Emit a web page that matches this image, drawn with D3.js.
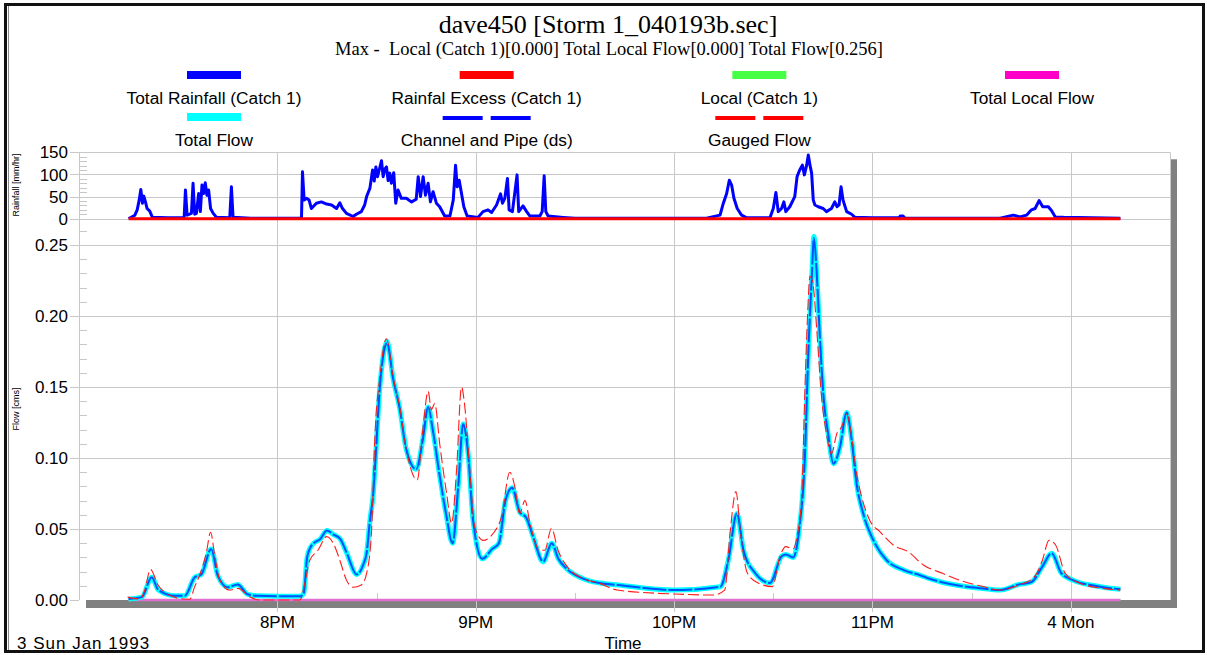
<!DOCTYPE html>
<html>
<head>
<meta charset="utf-8">
<script src="https://cdn.jsdelivr.net/npm/d3@7"></script>
<style>
  body { margin: 0; background: #fff; }
  svg { display: block; }
  text { font-family: "Liberation Sans", Arial, sans-serif; fill: #000; }
  .serif { font-family: "Liberation Serif", "Times New Roman", serif; white-space: pre; }
</style>
</head>
<body>
<svg id="chart" width="1207" height="655"></svg>
<script>
// all times are minutes after 7PM, 3 Sun Jan 1993
const rainMinutes = [15,15.8,16.9,17.6,18.2,18.7,19.2,19.6,20.1,20.6, 21.4,22.2,27,31.8,32.2,32.7,34,34.5,35,35.5,
  36.2,36.7,37.2,37.7,38.2,38.7,39.2,39.8,40.6,41.6, 45.6,46.1,46.6,52,67.3,67.6,68.1,68.8,69.6,70.3,
  71.8,73.3,74.9,76.4,77.9,78.9,79.7,80.9,82.9,83.9, 85.4,86.4,87,88,88.8,89.3,89.8,90.3,90.8,91.5,
  92,92.5,93,93.5,94,94.5,95.2,95.8,96.5,97.5, 99,100.6,102,102.6,103.3,104.1,104.8,105.6,106.3,107.1,
  108.1,109.1,110.6,112.2,113.2,113.9,114.4,115,115.7,116.4, 117.4,120.7,122.2,123.7,124.8,126.3,127.5,128.1,128.8,129.6,
  130.1,131.1,132.5,133,134.3,135.4,136.4,139.4,140.1,140.7, 141.2,141.9,146.5,150,189.8,193.9,194.9,195.9,196.7,197.4,
  198.1,199.1,200.4,202,209,210,210.8,211.5,212.5,213.2, 213.8,215,216.5,217.2,218,218.8,219.4,220.1,220.6,221.1,
  221.6,222.1,222.6,223.6,225.1,226.1,227.6,228.6,229.3,229.9, 230.5,231.1,232.2,233.7,234.7,240,248.1,248.4,249.3,249.8,
  278.6,282.6,284.6,286.6,288.1,289.2,290.4,291.5,293.2,294.2, 295.3,297.8,315];
const totalRainfall = [0,3,8,20,42,66,35,51,38,23, 17,3,2,2,65,8,12,80,10,12,
  57,16,76,57,81,53,65,23,12,3, 2,72,3,1,1,106,42,46,42,23,
  35,38,33,31,23,36,23,12,5,10, 16,31,50,69,110,85,117,95,110,131,
  95,112,117,86,103,80,104,35,65,46, 46,38,44,95,50,95,53,80,38,61,
  35,27,6,6,42,121,72,87,57,27, 6,3,16,20,14,31,56,35,46,91,
  20,16,99,16,29,16,6,6,16,97, 16,6,3,1,1,8,35,57,87,76,
  46,23,8,2,2,23,59,16,23,38, 16,27,50,95,110,121,99,121,144,121,
  103,42,31,27,23,16,23,38,27,31, 72,42,16,10,3,2,2,6,6,1,
  1,8,4,8,20,23,41,27,27,18, 4,3,1];

const excessMinutes = [15, 315];
const rainfallExcess = [0, 0];

const flowMinutes = [15,19,22,24,29,32,35,37,40,42, 45,48,51,54,67,68,69,70,71,73,
  75,77,79,81,84,86,87,88,89,89.5, 91,92.5,93.2,95,97,99,102,104,105.6,107,
  109,111,113,114.7,116.2,117.7,119.2,122,125,127, 129,131,133.3,135.3,137.3,140.4,143,145,147.5,152.5,
  157.5,163,180,194,196.4,199,201,204.5,209,212.6, 213.8,216,217.8,219.6,220.6,221.6,222.3,223.1,224.1,225.1,
  226.6,228.2,230.2,232.2,233.7,235.2,237.2,240.3,244.3,249.5, 254.3,257.3,261,272.8,278.6,284.4,288,291.4,294.2,297.1,
  300.6,307.6,315];
const totalFlow = [0.0007,0.002,0.016,0.007,0.003,0.003,0.016,0.018,0.036,0.017, 0.009,0.011,0.004,0.003,0.0026,0.005,0.030,0.037,0.040,0.043,
  0.049,0.046,0.043,0.033,0.018,0.025,0.033,0.056,0.075,0.092, 0.150,0.178,0.182,0.156,0.135,0.106,0.092,0.113,0.136,0.120,
  0.089,0.061,0.040,0.080,0.124,0.103,0.056,0.029,0.036,0.040, 0.070,0.079,0.062,0.058,0.045,0.027,0.040,0.029,0.022,0.015,
  0.012,0.0106,0.007,0.0094,0.028,0.061,0.035,0.019,0.012,0.031, 0.032,0.030,0.049,0.103,0.174,0.225,0.256,0.232,0.185,0.146,
  0.117,0.096,0.108,0.132,0.113,0.082,0.061,0.042,0.028,0.021, 0.0175,0.015,0.0125,0.0082,0.007,0.011,0.0125,0.0235,0.033,0.019,
  0.014,0.0099,0.0075];
const channelPipe = [0.0007,0.002,0.016,0.007,0.003,0.003,0.016,0.018,0.036,0.017, 0.009,0.011,0.004,0.003,0.0026,0.005,0.030,0.037,0.040,0.043,
  0.049,0.046,0.043,0.033,0.018,0.025,0.033,0.056,0.075,0.092, 0.150,0.178,0.181,0.156,0.135,0.106,0.092,0.113,0.136,0.120,
  0.089,0.061,0.040,0.080,0.124,0.103,0.056,0.029,0.036,0.040, 0.070,0.079,0.062,0.058,0.045,0.027,0.040,0.029,0.022,0.015,
  0.012,0.0106,0.007,0.0094,0.028,0.061,0.035,0.019,0.012,0.031, 0.032,0.030,0.049,0.103,0.174,0.225,0.255,0.232,0.185,0.146,
  0.117,0.096,0.108,0.132,0.113,0.082,0.061,0.042,0.028,0.021, 0.0175,0.015,0.0125,0.0082,0.007,0.011,0.0125,0.0235,0.033,0.019,
  0.014,0.0099,0.0075];

const gaugedMinutes = [14.7,18.4,19.9,21.6,23.9,26.4,31.5,33.5,35,36.5, 38.5,39.8,41.1,42.6,45.6,48.1,51.6,54.7,66.8,68.3,
  69.8,72.3,74.9,76.9,78.9,80.9,82.9,85.4,87,88.5, 89.5,91,93,95,97,99,102.3,104,105.6,106.6,
  107.6,109.1,111.2,112.7,114.2,115.7,116.7,118.2,119.7,122.2, 125.3,127.8,130.3,131.8,133.3,134.9,136.4,139.4,140.9,142.9,
  144.9,147.5,152.4,157.5,162.8,180.2,191.8,195.3,197,198.7, 200.1,202.2,205.7,209.7,212,213.8,216,217.2,218.6,219.6,
  220.4,221.1,222.1,223.1,224.6,226.1,227.6,229.2,230.7,232.2, 233.7,235.2,236.7,239.2,242.3,246.3,250.8,255.5,261.2,267,
  272.8,278.6,284.4,289,291.4,293.4,295.4,298.3,302.9,309.8, 315];
const gaugedFlow = [0.002,0.0007,0.007,0.0216,0.0106,0.0047,0.0007,0.0005,0.0094,0.0176, 0.033,0.0477,0.0305,0.014,0.007,0.0082,0.0023,0,0,0.0117,
  0.028,0.035,0.0446,0.040,0.028,0.014,0.009,0.0106,0.0188,0.049, 0.115,0.157,0.184,0.157,0.136,0.106,0.0845,0.12,0.147,0.134,
  0.1385,0.110,0.075,0.054,0.0915,0.150,0.136,0.0915,0.0516,0.042, 0.047,0.0587,0.090,0.080,0.061,0.070,0.054,0.035,0.035,0.0505,
  0.035,0.024,0.0153,0.0117,0.007,0.0042,0.0035,0.007,0.049,0.0763, 0.047,0.0188,0.0117,0.0094,0.0305,0.0376,0.036,0.045,0.073,0.150,
  0.202,0.228,0.221,0.192,0.143,0.117,0.103,0.117,0.122,0.131, 0.115,0.089,0.073,0.056,0.048,0.0387,0.034,0.0245,0.0188,0.0134,
  0.0099,0.007,0.0106,0.0164,0.028,0.042,0.0387,0.0188,0.0117,0.0082, 0.007];

const localMinutes = [15, 315];
const localCatch = [0, 0];
const totalLocalFlow = [0, 0];

const rainTicks = [0, 50, 100, 150];
const flowTicks = [0, 0.05, 0.10, 0.15, 0.20, 0.25];

const legendItems = [
  { name: "Total Rainfall (Catch 1)", color: "#0000ff", dash: false },
  { name: "Rainfal Excess (Catch 1)", color: "#ff0000", dash: false },
  { name: "Local (Catch 1)", color: "#44ff44", dash: false },
  { name: "Total Local Flow", color: "#ff00c8", dash: false },
  { name: "Total Flow", color: "#00ffff", dash: false },
  { name: "Channel and Pipe (ds)", color: "#0000ff", dash: true },
  { name: "Gauged Flow", color: "#ff0000", dash: true }
];

const titleText = "dave450 [Storm 1_040193b.sec]";
const subtitleText = "Max -  Local (Catch 1)[0.000] Total Local Flow[0.000] Total Flow[0.256]";

const svg = d3.select("#chart");
const grid = "#c8c8c8";

const startTime = new Date(1993, 0, 3, 19, 0);
const endTime = new Date(1993, 0, 4, 0, 30);
const toDate = (m) => new Date(+startTime + m * 60000);

const plot = { left: 79, right: 1170, top: 152.3, bottom: 600 };

const x = d3.scaleTime().domain([startTime, endTime]).range([plot.left, plot.right]);
const yRain = d3.scaleLinear().domain([0, 150]).range([218.7, plot.top]);
const yFlow = d3.scaleLinear().domain([0, 0.265]).range([plot.bottom, 223.7]);

// outer frame
svg.append("rect").attr("x", 5.5).attr("y", 4.5).attr("width", 1198).attr("height", 647)
  .attr("fill", "#fff").attr("stroke", "#111").attr("stroke-width", 3);
svg.append("line").attr("x1", 8.5).attr("x2", 8.5).attr("y1", 6).attr("y2", 650)
  .attr("stroke", "#888").attr("stroke-width", 1);

// drop shadow + plot background
svg.append("rect").attr("x", plot.left + 7).attr("y", plot.top + 7)
  .attr("width", plot.right - plot.left).attr("height", plot.bottom - plot.top + 1)
  .attr("fill", "#808080");
svg.append("rect").attr("x", plot.left).attr("y", plot.top)
  .attr("width", plot.right - plot.left).attr("height", plot.bottom - plot.top)
  .attr("fill", "#fff");

// vertical hour gridlines (first hour after the axis start)
const hours = d3.timeHour.range(d3.timeHour.offset(startTime, 1), endTime);
svg.append("g").selectAll("line").data(hours).join("line")
  .attr("x1", d => Math.round(x(d)) + 0.5).attr("x2", d => Math.round(x(d)) + 0.5)
  .attr("y1", plot.top).attr("y2", 612)
  .attr("stroke", grid).attr("stroke-width", 1);

// half hour minor ticks
const halfHours = d3.timeMinute.every(30).range(startTime, endTime).filter(d => d.getMinutes() === 30);
svg.append("g").selectAll("line").data(halfHours).join("line")
  .attr("x1", d => Math.round(x(d)) + 0.5).attr("x2", d => Math.round(x(d)) + 0.5)
  .attr("y1", plot.bottom - 7).attr("y2", plot.bottom)
  .attr("stroke", grid);

// horizontal gridlines
svg.append("g").selectAll("line").data(rainTicks).join("line")
  .attr("x1", 70).attr("x2", plot.right)
  .attr("y1", d => Math.round(yRain(d)) + 0.5).attr("y2", d => Math.round(yRain(d)) + 0.5)
  .attr("stroke", grid);
svg.append("g").selectAll("line").data(flowTicks.filter(d => d > 0)).join("line")
  .attr("x1", 70).attr("x2", plot.right)
  .attr("y1", d => Math.round(yFlow(d)) + 0.5).attr("y2", d => Math.round(yFlow(d)) + 0.5)
  .attr("stroke", grid);
svg.append("line").attr("x1", 70).attr("x2", plot.left)
  .attr("y1", plot.bottom + 0.5).attr("y2", plot.bottom + 0.5).attr("stroke", grid);

// minor y ticks
const rainMinor = d3.range(10, 150, 10).filter(d => d % 50 !== 0);
svg.append("g").selectAll("line").data(rainMinor).join("line")
  .attr("x1", plot.left).attr("x2", plot.left + 8)
  .attr("y1", d => Math.round(yRain(d)) + 0.5).attr("y2", d => Math.round(yRain(d)) + 0.5)
  .attr("stroke", grid);
const flowMinor = d3.range(1, 27).map(d => d / 100).filter(d => Math.round(d * 100) % 5 !== 0);
svg.append("g").selectAll("line").data(flowMinor).join("line")
  .attr("x1", plot.left).attr("x2", plot.left + 8)
  .attr("y1", d => Math.round(yFlow(d)) + 0.5).attr("y2", d => Math.round(yFlow(d)) + 0.5)
  .attr("stroke", grid);

// axis lines and right border
svg.append("line").attr("x1", plot.left + 0.5).attr("x2", plot.left + 0.5)
  .attr("y1", plot.top).attr("y2", plot.bottom).attr("stroke", grid);
svg.append("line").attr("x1", plot.right + 0.5).attr("x2", plot.right + 0.5)
  .attr("y1", plot.top).attr("y2", plot.bottom).attr("stroke", grid);

// series
function series(times, values) {
  return times.map((t, i) => ({ t: toDate(t), v: values[i] }));
}
const rainLine = d3.line().x(d => x(d.t)).y(d => yRain(d.v));
const flowLine = d3.line().x(d => x(d.t)).y(d => yFlow(d.v)).curve(d3.curveMonotoneX);
const flowStraight = d3.line().x(d => x(d.t)).y(d => yFlow(d.v));

svg.append("path").datum(series(rainMinutes, totalRainfall)).attr("d", rainLine)
  .attr("fill", "none").attr("stroke", "#0000ff").attr("stroke-width", 3).attr("stroke-linejoin", "round");
svg.append("path").datum(series(excessMinutes, rainfallExcess)).attr("d", rainLine)
  .attr("fill", "none").attr("stroke", "#ff0000").attr("stroke-width", 3);

svg.append("path").datum(series(localMinutes, localCatch)).attr("d", flowStraight)
  .attr("fill", "none").attr("stroke", "#44ff44").attr("stroke-width", 2);
svg.append("path").datum(series(localMinutes, totalLocalFlow)).attr("d", flowStraight)
  .attr("fill", "none").attr("stroke", "#e070d0").attr("stroke-width", 2.5);

svg.append("path").datum(series(flowMinutes, totalFlow)).attr("d", flowLine)
  .attr("fill", "none").attr("stroke", "#00ffff").attr("stroke-width", 5).attr("stroke-linejoin", "round");
svg.append("path").datum(series(flowMinutes, channelPipe)).attr("d", flowLine)
  .attr("fill", "none").attr("stroke", "#0050ff").attr("stroke-width", 2)
  .attr("stroke-dasharray", "24,2");
svg.append("path").datum(series(gaugedMinutes, gaugedFlow)).attr("d", flowLine)
  .attr("fill", "none").attr("stroke", "#ff1a1a").attr("stroke-width", 1.1)
  .attr("stroke-dasharray", "11,4");

// y tick labels
svg.append("g").selectAll("text").data(rainTicks).join("text")
  .attr("x", 68).attr("y", d => yRain(d)).attr("dy", "0.36em")
  .attr("text-anchor", "end").style("font-size", "17px")
  .text(d => d);
svg.append("g").selectAll("text").data(flowTicks).join("text")
  .attr("x", 68).attr("y", d => yFlow(d)).attr("dy", "0.36em")
  .attr("text-anchor", "end").style("font-size", "17px")
  .text(d3.format(".2f"));

// axis titles
svg.append("text").attr("transform", "translate(19,185) rotate(-90)")
  .attr("text-anchor", "middle").style("font-size", "9px").text("Rainfall [mm/hr]");
svg.append("text").attr("transform", "translate(19,409) rotate(-90)")
  .attr("text-anchor", "middle").style("font-size", "9px").text("Flow [cms]");

// x tick labels
const hourFmt = d3.timeFormat("%-I%p");
svg.append("g").selectAll("text").data(hours).join("text")
  .attr("x", d => x(d)).attr("y", 628)
  .attr("text-anchor", "middle").style("font-size", "17px")
  .text(d => d.getHours() === 0 ? d3.timeFormat("%-d %a")(d) : hourFmt(d));

svg.append("text").attr("x", 623).attr("y", 649).attr("text-anchor", "middle")
  .style("font-size", "17px").text("Time");
svg.append("text").attr("x", 17).attr("y", 649)
  .style("font-size", "17px").style("letter-spacing", "1px")
  .text(d3.timeFormat("%-d %a %b %Y")(startTime));

// titles
svg.append("text").attr("class", "serif").attr("x", 608).attr("y", 33)
  .attr("text-anchor", "middle").style("font-size", "26px").text(titleText);
svg.append("text").attr("class", "serif").attr("x", 609).attr("y", 55)
  .attr("text-anchor", "middle").style("font-size", "18.5px").text(subtitleText);

// legend
const legendX = d3.scalePoint().domain(d3.range(4)).range([214, 1032]);
const legend = svg.append("g").selectAll("g").data(legendItems).join("g")
  .attr("transform", (d, i) => `translate(${legendX(i % 4)},${i < 4 ? 0 : 42})`);
legend.filter(d => !d.dash).append("rect")
  .attr("x", -27).attr("y", 71).attr("width", 54).attr("height", 8)
  .attr("fill", d => d.color);
legend.filter(d => d.dash).selectAll("rect").data(d => [d, d]).join("rect")
  .attr("x", (d, i) => i === 0 ? -44 : 4).attr("y", 74).attr("width", 40).attr("height", 4)
  .attr("fill", d => d.color);
legend.append("text").attr("x", 0).attr("y", 104)
  .attr("text-anchor", "middle").style("font-size", "17.3px")
  .text(d => d.name);
</script>
</body>
</html>
